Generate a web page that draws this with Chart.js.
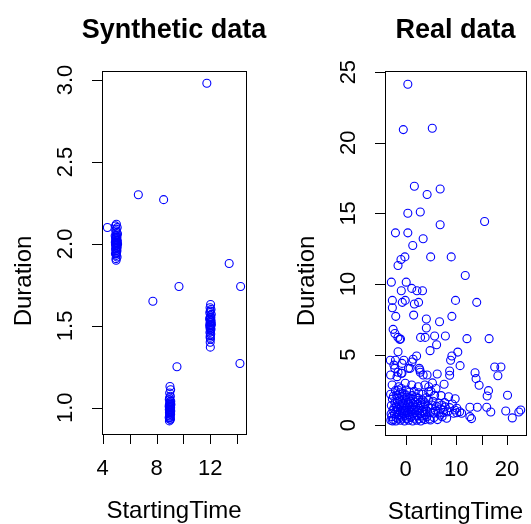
<!DOCTYPE html>
<html>
<head>
<meta charset="utf-8">
<title>Synthetic vs real data</title>
<script src="https://cdn.jsdelivr.net/npm/chart.js@4.4.1/dist/chart.umd.min.js"></script>
<style>
  html, body { margin: 0; padding: 0; background: #fff; }
  #wrap { position: relative; width: 531px; height: 524px; overflow: hidden; }
  canvas { position: absolute; top: 0; }
  #synth { left: 0; }
  #real  { left: 265px; }
</style>
</head>
<body>
<div id="wrap">
  <canvas id="synth" width="300" height="524"></canvas>
  <canvas id="real" width="266" height="524"></canvas>
</div>
<script>
// ------------------------------------------------------------
// Data : Synthetic data (left panel)
// ------------------------------------------------------------
const synthX = [
  4.35, 6.65, 8.53, 11.74, 13.40, 9.67, 14.25, 7.73, 9.52, 14.20,
  // cluster ~5
  5.02, 4.95, 5.08, 5.00, 4.97, 5.05, 5.10, 4.93, 5.01, 5.06,
  4.98, 5.03, 4.96, 5.09, 5.00, 5.04, 4.94, 5.07, 4.99, 5.02,
  5.11, 4.95, 5.05, 5.00, 4.97, 5.08, 5.03, 4.96, 5.01, 5.06,
  4.98, 5.04, 5.00, 4.95, 5.02, 5.07, 4.99, 5.00,
  // cluster ~9
  9.00, 9.05, 8.98, 9.03, 8.97, 8.95, 9.02, 9.06, 8.99, 9.04,
  8.96, 9.01, 9.07, 8.94, 9.00, 9.03, 8.98, 9.05, 8.97, 9.02,
  9.00, 8.95, 9.04, 8.99, 9.06, 9.01, 8.96, 9.03, 8.98, 9.00,
  9.05, 8.97, 9.02, 8.94, 9.01, 8.99, 9.04, 8.96, 9.00, 9.02,
  // cluster ~12
  12.02, 11.98, 12.05, 12.00, 11.96, 12.07, 12.01, 11.97, 12.04, 12.00,
  11.95, 12.06, 12.02, 11.99, 12.03, 11.97, 12.08, 12.00, 11.96, 12.04,
  12.01, 11.98, 12.05, 11.99, 12.02, 11.97, 12.03, 12.00, 11.98, 12.01,
  11.99, 12.00
];
const synthY = [
  2.10, 2.30, 2.27, 2.98, 1.88, 1.74, 1.74, 1.65, 1.25, 1.27,
  2.12, 2.11, 2.10, 2.09, 2.08, 2.07, 2.06, 2.05, 2.05, 2.04,
  2.04, 2.03, 2.03, 2.02, 2.02, 2.02, 2.01, 2.01, 2.01, 2.00,
  2.00, 2.00, 1.99, 1.99, 1.99, 1.98, 1.98, 1.97, 1.97, 1.96,
  1.96, 1.95, 1.94, 1.94, 1.93, 1.92, 1.91, 1.90,
  1.13, 1.11, 1.09, 1.07, 1.06, 1.05, 1.04, 1.04, 1.03, 1.03,
  1.02, 1.02, 1.02, 1.01, 1.01, 1.01, 1.00, 1.00, 1.00, 1.00,
  0.99, 0.99, 0.99, 0.98, 0.98, 0.98, 0.97, 0.97, 0.97, 0.96,
  0.96, 0.95, 0.95, 0.94, 0.94, 0.93, 0.93, 0.92, 0.99, 1.01,
  1.63, 1.61, 1.60, 1.59, 1.58, 1.57, 1.56, 1.55, 1.55, 1.54,
  1.54, 1.53, 1.53, 1.52, 1.52, 1.51, 1.51, 1.50, 1.50, 1.50,
  1.49, 1.49, 1.48, 1.48, 1.47, 1.46, 1.45, 1.44, 1.43, 1.42,
  1.40, 1.37
];

// ------------------------------------------------------------
// Data : Real data (right panel)
// ------------------------------------------------------------
const realX = [
  0.45, -0.44, 5.27, 1.74, 4.25, 6.82,
  0.45, 2.90, 6.82, 15.58, -1.99, 0.45, 3.47, 1.42, -0.13, -0.90, -1.48, 4.95, 9.00, 11.77,
  -2.80, 0.13, -0.84, 1.22, 2.25, 3.34, -2.60, -0.64, -0.06, 1.74, 2.57, 9.85, 14.03, -2.60,
  -1.93, 1.60, 4.10, 6.70, 9.13, -2.45, 4.10,
  -2.10, -1.50, -1.00, -1.16, 2.96, 3.86, 5.73, 7.85, 6.12, 4.83, 12.10, 16.47, -1.48,
  -3.00, -2.00, -0.33, 1.29, 1.49, 2.18, 0.90, 2.70, 2.90, -2.12, -1.48, -0.84,
  10.30, 9.13, 8.88, 10.75, 6.24, 8.69, 8.69, 13.70, 13.90, 14.50, 17.57, 18.80, 18.20,
  16.35, 16.08, 20.10, 9.78, 8.49, 5.73, 6.56, 7.72, 10.10, 12.68, 14.15, 16.00, 16.80,
  19.75, 21.04, 22.33, 22.70, 12.68, 13.00, 10.10, 11.06, 9.46,
  4.24, 4.57, 4.57, 5.20, 5.53, 6.80, 7.46, 4.88, 7.14, 9.70, 10.67,
  -2.30, -0.70, 0.58, -2.95, -1.68, -0.71, 2.83, 3.47, -2.64, -1.35, -0.06, 1.22, 2.51, 3.80,
  // dense block near the origin
  -2.90, -2.70, -2.50, -2.80, -2.60, -2.95, -2.40, -2.20, -2.30, -2.10, -2.40, -2.00,
  -1.90, -1.80, -1.70, -1.85, -1.60, -1.75, -1.50, -1.40, -1.30, -1.45, -1.20, -1.35,
  -1.10, -1.00, -0.90, -1.05, -0.80, -0.95, -0.70, -0.85, -0.60, -0.50, -0.40, -0.55,
  -0.30, -0.45, -0.20, -0.10, 0.00, -0.15, 0.10, 0.05, 0.20, 0.30, 0.40, 0.25,
  0.50, 0.35, 0.60, 0.70, 0.80, 0.65, 0.90, 0.75, 1.00, 1.10, 1.20, 1.05,
  1.30, 1.40, 1.50, 1.35, 1.60, 1.45, 1.70, 1.80, 1.90, 2.00, 1.85, 2.10,
  2.20, 2.30, 2.15, 2.40, 2.50, 2.60, 2.70, 2.80, 2.65, 2.90, 3.00, 3.10,
  3.20, 3.05, 3.30, 3.40, 3.50, 3.60, 3.45, 3.70, 3.80, 3.90, 4.00, 3.85,
  4.10, 4.20, 4.30, 4.40, 4.50,
  -2.85, -2.55, -0.25, 0.55, 1.25, 2.45, -1.60, 0.15, 1.65, -0.65,
  // band 4.5 .. 9
  4.70, 4.90, 5.10, 5.40, 5.60, 5.90, 6.10, 6.30, 6.50, 6.90, 7.20, 7.50,
  7.80, 8.10, 8.30, 8.70, 5.00, 6.00, 7.00, 7.60, 5.30, 9.20
];
const realY = [
  24.14, 20.93, 21.03, 16.92, 16.34, 16.73,
  15.01, 15.10, 14.20, 14.43, 13.62, 13.62, 13.20, 12.73, 11.92, 11.74, 11.31, 11.92, 11.92, 10.60,
  10.13, 10.13, 9.52, 9.69, 9.52, 9.52, 8.84, 8.70, 8.84, 8.58, 8.70, 8.84, 8.70, 8.32,
  7.71, 7.80, 7.52, 7.33, 7.71, 6.79, 6.88,
  6.50, 6.22, 6.10, 6.08, 6.22, 6.22, 6.32, 6.32, 5.70, 5.28, 6.13, 6.13, 5.20,
  4.60, 4.60, 4.60, 4.48, 4.67, 4.90, 4.03, 4.03, 3.75, 4.03, 3.75, 3.68,
  5.18, 4.90, 4.60, 4.22, 3.63, 3.84, 3.54, 3.72, 3.30, 2.83, 4.12, 4.12, 3.51,
  2.45, 2.07, 2.12, 1.88, 2.02, 2.12, 1.56, 1.60, 1.20, 1.27, 1.27, 1.27, 0.94,
  1.01, 0.52, 0.94, 1.08, 0.61, 0.47, 0.89, 0.85, 0.85,
  3.56, 2.73, 2.38, 1.43, 0.85, 0.73, 1.08, 0.37, 1.43, 1.08, 0.96,
  4.26, 4.38, 4.03, 3.56, 3.44, 3.68, 3.91, 3.56, 2.85, 2.73, 2.97, 2.85, 2.73, 2.85,
  0.35, 0.62, 1.05, 1.40, 1.85, 2.20, 0.40, 0.80, 1.20, 1.60, 2.05, 2.45,
  0.30, 0.55, 0.95, 1.30, 1.70, 2.10, 2.50, 0.45, 0.75, 1.10, 1.45, 1.90,
  2.30, 0.35, 0.65, 1.00, 1.30, 1.65, 2.00, 2.60, 0.50, 0.85, 1.20, 1.55,
  1.85, 2.25, 0.30, 0.70, 1.05, 1.40, 1.75, 2.15, 2.50, 0.45, 0.90, 1.25,
  1.60, 2.00, 0.35, 0.75, 1.15, 1.50, 1.90, 2.35, 0.55, 0.95, 1.30, 1.70,
  2.10, 0.30, 0.80, 1.05, 1.45, 1.85, 2.40, 0.50, 0.90, 1.25, 1.65, 2.00,
  0.35, 0.70, 1.10, 1.50, 1.90, 2.30, 0.45, 0.85, 1.20, 1.60, 0.30, 0.65,
  1.00, 1.40, 1.80, 2.20, 0.50, 0.90, 1.30, 1.65, 0.40, 0.75, 1.10, 1.50,
  1.95, 0.60, 1.00, 1.35, 1.75,
  0.80, 0.30, 0.95, 1.05, 0.65, 1.05, 1.25, 0.50, 1.10, 1.05,
  0.45, 0.90, 1.20, 1.70, 0.55, 1.00, 1.35, 0.40, 0.85, 1.15, 0.60, 0.90,
  1.30, 0.50, 0.95, 1.25, 2.40, 2.60, 2.10, 2.90, 3.00, 1.50
];

// Axis ticks and labels (R drops the labels that would overlap)
const synthXTicks  = [4, 6, 8, 10, 12, 14];
const synthXLabels = [4, 8, 12];
const synthYTicks  = [1.0, 1.5, 2.0, 2.5, 3.0];
const realXTicks   = [0, 5, 10, 15, 20];
const realXLabels  = [0, 10, 20];
const realYTicks   = [0, 5, 10, 15, 20, 25];

// ------------------------------------------------------------
// Plugin : axes façon R (boîte, graduations, textes)
// ------------------------------------------------------------
const FONT = '"Liberation Sans", Arial, Helvetica, sans-serif';

const rAxes = {
  id: 'rAxes',
  afterDraw(chart, args, o) {
    const ctx = chart.ctx;
    const a   = chart.chartArea;
    const x   = chart.scales.x;
    const y   = chart.scales.y;
    const tick = 10;

    ctx.save();
    ctx.strokeStyle = '#000';
    ctx.fillStyle   = '#000';
    ctx.lineWidth   = 1;

    // boîte
    ctx.strokeRect(Math.round(a.left) + 0.5, Math.round(a.top) + 0.5,
                   Math.round(a.right - a.left), Math.round(a.bottom - a.top));

    // axe x
    ctx.beginPath();
    o.xTicks.forEach((v) => {
      const px = Math.round(x.getPixelForValue(v)) + 0.5;
      ctx.moveTo(px, a.bottom);
      ctx.lineTo(px, a.bottom + tick);
    });
    // axe y
    o.yTicks.forEach((v) => {
      const py = Math.round(y.getPixelForValue(v)) + 0.5;
      ctx.moveTo(a.left, py);
      ctx.lineTo(a.left - tick, py);
    });
    ctx.stroke();

    ctx.font = '22px ' + FONT;
    ctx.textAlign = 'center';
    ctx.textBaseline = 'middle';
    o.xLabels.forEach((v) => {
      ctx.fillText(String(v), x.getPixelForValue(v), a.bottom + 35);
    });
    o.yTicks.forEach((v) => {
      ctx.save();
      ctx.translate(a.left - 36, y.getPixelForValue(v));
      ctx.rotate(-Math.PI / 2);
      ctx.fillText(o.yFmt(v), 0, 0);
      ctx.restore();
    });

    // titres d'axes
    const cx = (a.left + a.right) / 2;
    ctx.font = '24px ' + FONT;
    ctx.fillText('StartingTime', cx, a.bottom + 77);
    ctx.save();
    ctx.translate(a.left - 78, 281);
    ctx.rotate(-Math.PI / 2);
    ctx.fillText('Duration', 0, 0);
    ctx.restore();

    // titre principal
    ctx.font = 'bold 27px ' + FONT;
    ctx.fillText(o.title, cx, 31);

    ctx.restore();
  },
};

function makePanel(canvasId, xs, ys, opts) {
  const points = xs.map((v, i) => ({ x: v, y: ys[i] }));

  return new Chart(document.getElementById(canvasId), {
    type: 'scatter',
    data: {
      datasets: [{
        data:            points,
        pointStyle:      'circle',
        pointRadius:     4,
        pointBorderWidth: 1.1,
        pointBorderColor: '#0000ff',
        pointBackgroundColor: 'rgba(0,0,0,0)',
      }],
    },
    options: {
      responsive:       false,
      animation:        false,
      devicePixelRatio: 1,
      layout: { padding: opts.padding },
      plugins: {
        legend:  { display: false },
        tooltip: { enabled: false },
        rAxes:   opts.axes,
      },
      scales: {
        x: { type: 'linear', display: false, min: opts.xMin, max: opts.xMax },
        y: { type: 'linear', display: false, min: opts.yMin, max: opts.yMax },
      },
    },
    plugins: [rAxes],
  });
}

// le canvas de gauche est plus large (transparent) pour que le titre ne soit pas coupé
makePanel('synth', synthX, synthY, {
  padding: { left: 102, right: 54, top: 71, bottom: 90 },
  xMin: 3.95, xMax: 14.65, yMin: 0.84, yMax: 3.055,
  axes: {
    title:  'Synthetic data',
    xTicks: synthXTicks,
    xLabels: synthXLabels,
    yTicks: synthYTicks,
    yFmt:   (v) => v.toFixed(1),
  },
});

makePanel('real', realX, realY, {
  padding: { left: 120, right: 2, top: 71, bottom: 89 },
  xMin: -4.05, xMax: 23.72, yMin: -0.69, yMax: 25.08,
  axes: {
    title:  'Real data',
    xTicks: realXTicks,
    xLabels: realXLabels,
    yTicks: realYTicks,
    yFmt:   (v) => String(v),
  },
});
</script>
</body>
</html>
